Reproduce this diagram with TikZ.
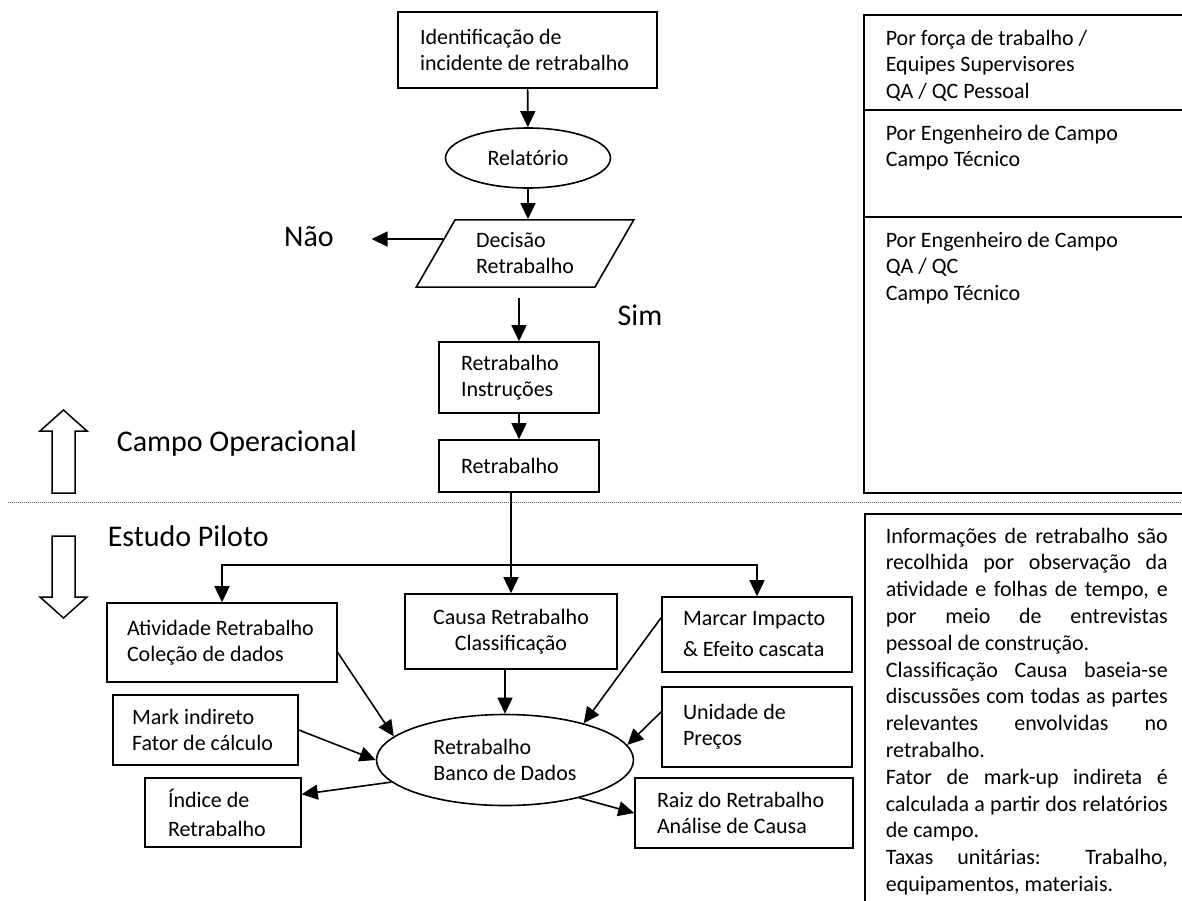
\documentclass[tikz,border=0pt]{standalone}
\usepackage{fontspec}
\setmainfont{Carlito}
\usetikzlibrary{shapes,arrows.meta,positioning,calc}

\begin{document}
\begin{tikzpicture}[x=1pt, y=-1pt, line width=1.6pt, >={Triangle[length=16pt,width=15pt]}]
    % Styles
    \tikzstyle{box} = [draw, rectangle, inner sep=0, align=flush left, font=\fontsize{22}{26}\selectfont]
    \tikzstyle{oval} = [draw, ellipse, inner sep=0, align=flush left, font=\fontsize{22}{26}\selectfont]
    \tikzstyle{big} = [inner sep=0, font=\fontsize{30}{36}\selectfont]
    \tikzstyle{hollow} = [draw, fill=white, line width=1.5pt]
    \tikzstyle{panel} = [draw, rectangle, anchor=north west, inner sep=0, line width=1.5pt]
    \tikzstyle{paneltext} = [anchor=north west, inner sep=0, align=flush left, font=\fontsize{22}{26.5}\selectfont]

    % Page frame
    \clip (0,0) rectangle (1182,900);

    % Operational field, flow down the centre at x=519
    \node[box, minimum width=259pt, minimum height=76pt, text width=215pt] (ident) at (527.5,50) {Identificação de\\incidente de retrabalho};
    \node[oval, minimum width=165pt, minimum height=60pt] (relat) at (528,158) {Relatório};
    \node[box, trapezium, trapezium left angle=60, trapezium right angle=120,
          inner xsep=21pt, inner ysep=13pt] (decisao) at (525,253.5) {Decisão\\Retrabalho};
    \node[big, anchor=base, inner xsep=37pt] (nao) at (309,246) {Não};
    \node[big, anchor=base] (sim) at (640,325) {Sim};
    \node[box, minimum width=160pt, minimum height=71pt, text width=116pt] (instr) at (519,377.5) {Retrabalho\\Instruções};
    \node[box, minimum width=160pt, minimum height=52pt, text width=116pt] (retrab) at (519,466) {Retrabalho};

    \draw[->] (ident) -- (relat);
    \draw[->] (relat.south) -- (relat.south |- decisao.north);
    \draw[->] (decisao.170) -- (decisao.170 -| nao.east);
    \draw[->, shorten <=10pt] (instr.north |- decisao.south) -- (instr.north);
    \draw[->] (instr) -- (retrab);

    % Side labels with hollow arrows
    \draw[hollow] (52,493) -- (52,431) -- (40,431) -- (63.5,410) -- (87,431) -- (75,431) -- (75,493) -- cycle;
    \node[big, anchor=base west] (campo) at (116,451) {Campo Operacional};
    \draw[hollow] (52,536) -- (52,597) -- (40,597) -- (63.5,618) -- (87,597) -- (75,597) -- (75,536) -- cycle;
    \node[big, anchor=base west] (estudo) at (107,546) {Estudo Piloto};

    % Dotted divider
    \draw[line width=1pt, dash pattern=on 1pt off 1pt, black!65] (8,502) -- (1182,502);

    % Pilot study, boxes round the database
    \node[box, align=center, minimum width=212pt, minimum height=75pt] (causa) at (511,631.5) {Causa Retrabalho\\Classificação};
    \node[box, minimum width=230pt, minimum height=79pt, text width=190pt] (ativ) at (222,642.5) {Atividade Retrabalho\\Coleção de dados};
    \node[box, minimum width=190pt, minimum height=75pt, text width=148pt] (marcar) at (757,634.5) {Marcar Impacto\\[5pt]\& Efeito cascata};
    \node[box, minimum width=185pt, minimum height=70pt, text width=147pt] (mark) at (205.5,730) {Mark indireto\\Fator de cálculo};
    \node[oval, minimum width=257pt, minimum height=91pt] (banco) at (505,760) {Retrabalho\\Banco de Dados};
    \node[box, minimum width=190pt, minimum height=80pt, text width=148pt] (unid) at (757,727) {Unidade de\\Preços};
    \node[box, minimum width=156pt, minimum height=69pt, text width=110pt] (indice) at (223,812.5) {Índice de\\[3pt]Retrabalho};
    \node[box, minimum width=218pt, minimum height=70pt, text width=174pt] (raiz) at (744,813) {Raiz do Retrabalho\\Análise de Causa};

    % Split below Retrabalho
    \coordinate (split) at (511,565);
    \draw[->] (causa.north |- retrab.south) -- (causa.north);
    \draw[->] (split) -| (ativ.north);
    \draw[->] (split) -| (marcar.north);

    % Into and out of the database
    \draw[->] (banco.north |- causa.south) -- (banco.north);
    \draw[->] (ativ.-5) -- (banco.168);
    \draw[->] (mark.east) -- (banco.west);
    \draw[->] (marcar.170) -- (banco.25);
    \draw[->] (unid.171) -- (banco.7);
    \draw[->] (banco.191) -- (indice.13);
    \draw[->] (banco.-27) -- (raiz.west);

    % Right-hand panels
    \node[panel, minimum width=330pt, minimum height=95pt] (who1) at (863,14) {};
    \node[panel, minimum width=330pt, minimum height=107pt] (who2) at (863,109) {};
    \node[panel, minimum width=330pt, minimum height=276pt] (who3) at (863,216) {};
    \node[paneltext] (whotext1) at ([shift={(22,15)}]who1.north west) {Por força de trabalho /\\Equipes Supervisores\\QA / QC Pessoal};
    \node[paneltext] (whotext2) at ([shift={(22,15)}]who2.north west) {Por Engenheiro de Campo\\Campo Técnico};
    \node[paneltext] (whotext3) at ([shift={(22,15)}]who3.north west) {Por Engenheiro de Campo\\QA / QC\\Campo Técnico};

    \node[panel, minimum width=330pt, minimum height=420pt] (notes) at (864,513) {};
    \node[paneltext, text width=282pt, align=justify, font=\fontsize{22}{26.8}\selectfont]
        (notestext) at ([shift={(21,14)}]notes.north west)
        {\parindent 0pt \tolerance 10000 \hbadness 10000
         Informações de retrabalho são\linebreak recolhida por observação da\linebreak atividade e folhas de tempo, e\linebreak por meio de entrevistas\linebreak pessoal de construção.\par
         Classificação Causa baseia-se\linebreak discussões com todas as partes\linebreak relevantes envolvidas no\linebreak retrabalho.\par
         Fator de mark-up indireta é\linebreak calculada a partir dos relatórios\linebreak de campo.\par
         Taxas unitárias: Trabalho,\linebreak equipamentos, materiais.};
\end{tikzpicture}
\end{document}
